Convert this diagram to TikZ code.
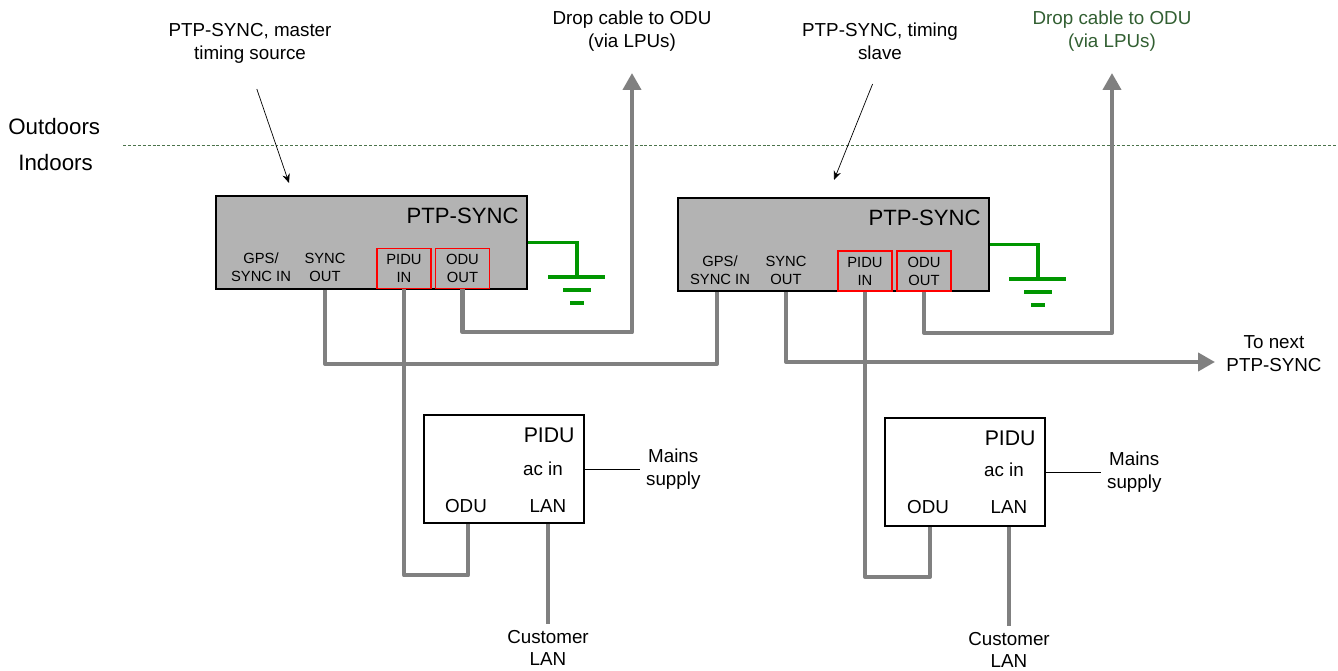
\documentclass[tikz,border=0pt]{standalone}
\usepackage{fontspec}
\setmainfont{Liberation Sans}
\usetikzlibrary{positioning,arrows.meta}
\definecolor{boxgray}{RGB}{179,179,179}
\definecolor{cablegray}{RGB}{128,128,128}
\definecolor{earthgreen}{RGB}{0,150,0}
\definecolor{notegreen}{RGB}{50,95,50}
\definecolor{wallgreen}{RGB}{75,115,75}

\begin{document}
\begin{tikzpicture}[x=0.02cm,y=-0.02cm]
\tikzstyle{ptpbox} = [rectangle, draw=black, line width=1.1pt, fill=boxgray, minimum width=6.22cm, minimum height=1.86cm, anchor=north west, inner sep=0pt]
\tikzstyle{pidubox} = [rectangle, draw=black, line width=1.1pt, fill=white, minimum width=3.2cm, minimum height=2.16cm, anchor=north west, inner sep=0pt]
\tikzstyle{boxname} = [font=\fontsize{12.6}{15}\selectfont, inner sep=0pt, anchor=north east]
\tikzstyle{port} = [font=\fontsize{8.4}{10.2}\selectfont, align=center, inner sep=0pt]
\tikzstyle{portred} = [port, draw=red, line width=1.1pt, minimum width=1.08cm, minimum height=0.8cm]
\tikzstyle{note} = [font=\fontsize{10.7}{13}\selectfont, align=center]
\tikzstyle{place} = [font=\fontsize{12.7}{15}\selectfont, anchor=west, inner sep=0pt]
\tikzstyle{cable} = [draw=cablegray, line width=2.3pt, line join=round]
\tikzstyle{cablearrow} = [cable, -{Triangle[length=0.34cm,width=0.36cm]}]
\tikzstyle{pointer} = [thin, -{Stealth[length=1.8mm,width=1.5mm]}]
\tikzstyle{earth} = [draw=earthgreen, line width=1.8pt]

\useasboundingbox (0,0) rectangle (1338,671);

% outdoors / indoors
\node (outdoors) [place] at (8,127) {Outdoors};
\node (indoors) [place] at (18,163) {Indoors};
\coordinate (wallL) at (123,145);
\coordinate (wallR) at (1338,145);
\draw [wallgreen, line width=0.5pt, dash pattern=on 1.7pt off 1.1pt] (wallL) -- (wallR);

% top notes
\node (master) [note] at (250,43) {PTP-SYNC, master\\timing source};
\node (slave) [note] at (880,41) {PTP-SYNC, timing\\slave};
\node (dropnote1) [note] at (632,31) {Drop cable to ODU\\(via LPUs)};
\node (dropnote2) [note, text=notegreen] at (1112,31) {Drop cable to ODU\\(via LPUs)};
\coordinate (drop1) at (632,73);
\coordinate (drop2) at (1112,73);

% PTP-SYNC units
\node (ptp1) [ptpbox] at (215,195) {};
\node (ptpname1) [boxname, below left=0.26cm and 0.18cm of ptp1.north east] {PTP-SYNC};
\node (gps1) [port] at (261,267) {GPS/\\SYNC IN};
\node (syncout1) [port] at (325,267) {SYNC\\OUT};
\node (piduin1) [portred] at (404,268.5) {PIDU\\IN};
\node (oduout1) [portred] at (462.5,268.5) {ODU\\OUT};

\node (ptp2) [ptpbox] at (677,197) {};
\node (ptpname2) [boxname, below left=0.26cm and 0.18cm of ptp2.north east] {PTP-SYNC};
\node (gps2) [port] at (720,270) {GPS/\\SYNC IN};
\node (syncout2) [port] at (786,270) {SYNC\\OUT};
\node (piduin2) [portred] at (865,271) {PIDU\\IN};
\node (oduout2) [portred] at (924,271) {ODU\\OUT};

\coordinate (mastertip) at (289,183);
\coordinate (slavetip) at (834,180);
\draw [pointer, shorten <=0.42cm] (master.south) -- (mastertip);
\draw [pointer, shorten <=0.4cm] (slave.south) -- (slavetip);

% earth
\coordinate (gnd1) at (577,277);
\coordinate (gnd2) at (1038,279);
\foreach \g in {gnd1,gnd2} {
  \draw [earth] (\g) ++(-29,0) -- ++(57,0);
  \draw [earth] (\g) ++(-14,13) -- ++(28,0);
  \draw [earth] (\g) ++(-7,26) -- ++(14,0);
}
\draw [earth] (ptp1.east) -| (gnd1);
\draw [earth] (ptp2.east) -| (gnd2);

% PIDUs
\node (pidu1) [pidubox] at (423,414) {};
\node (piduname1) [boxname, font=\fontsize{12.1}{15}\selectfont, below left=0.27cm and 0.2cm of pidu1.north east] {PIDU};
\node (acin1) [note] at (543,469) {ac in};
\node (odu1) [note] at (466,506) {ODU};
\node (lan1) [note] at (548,506) {LAN};
\node (mains1) [note, right=1.1cm of pidu1.east] {Mains\\supply};
\node (cust1) [note] at (548,648) {Customer\\LAN};

\node (pidu2) [pidubox] at (884,417) {};
\node (piduname2) [boxname, font=\fontsize{12.1}{15}\selectfont, below left=0.27cm and 0.2cm of pidu2.north east] {PIDU};
\node (acin2) [note] at (1004,470) {ac in};
\node (odu2) [note] at (928,507) {ODU};
\node (lan2) [note] at (1009,507) {LAN};
\node (mains2) [note, right=1.1cm of pidu2.east] {Mains\\supply};
\node (cust2) [note] at (1009,650) {Customer\\LAN};

\draw [thin] (pidu1.east) -- (mains1.west);
\draw [thin] (pidu2.east) -- (mains2.west);

% cables
\node (nextnote) [note] at (1274,354) {To next\\PTP-SYNC};
\coordinate (nextsync) at (1215,362);

\draw [cable] (syncout1 |- ptp1.south) -- ++(0,74) -| ([xshift=-0.06cm]gps2 |- ptp2.south);
\draw [cablearrow] (syncout2 |- ptp2.south) |- (nextsync);
\draw [cablearrow] (oduout1.south) -- ++(0,43) -| (drop1);
\draw [cablearrow] (oduout2.south) -- ++(0,41) -| (drop2);
\draw [cable] (piduin1.south) -- ++(0,286) -| ([xshift=0.04cm]odu1 |- pidu1.south);
\draw [cable] (piduin2.south) -- ++(0,285) -| ([xshift=0.04cm]odu2 |- pidu2.south);
\draw [cable] (lan1 |- pidu1.south) -- (cust1);
\draw [cable] (lan2 |- pidu2.south) -- (cust2);

\end{tikzpicture}
\end{document}
